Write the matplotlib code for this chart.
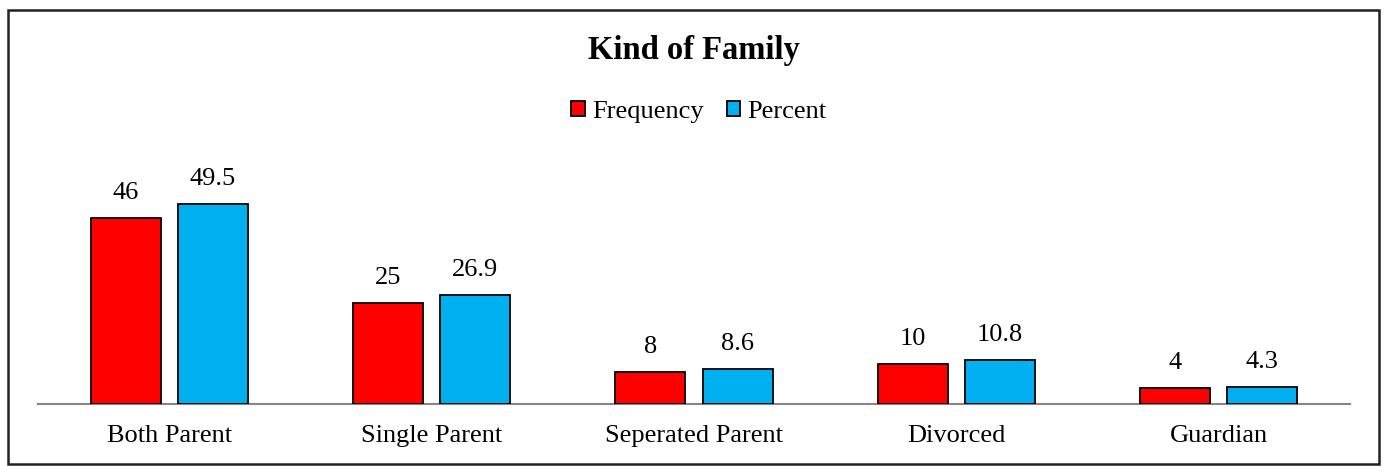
import matplotlib
matplotlib.use("Agg")
import matplotlib.pyplot as plt
from matplotlib.patches import Patch, Rectangle
import numpy as np

categories = ["Both Parent", "Single Parent", "Seperated Parent", "Divorced", "Guardian"]
frequency = [46, 25, 8, 10, 4]
percent = [49.5, 26.9, 8.6, 10.8, 4.3]
freq_labels = ["46", "25", "8", "10", "4"]
pct_labels = ["49.5", "26.9", "8.6", "10.8", "4.3"]
series_names = ["Frequency", "Percent"]

plt.rcParams['font.family'] = ['Liberation Serif', 'DejaVu Serif']

W, H = 1386, 466
fig = plt.figure(figsize=(W / 100, H / 100), dpi=100)

ax_left, ax_right = 38, 1350
ax_bottom = 404
ymax = 60
px_per_unit = 4.04
ax_h = ymax * px_per_unit
ax = fig.add_axes([ax_left / W, (H - ax_bottom) / H, (ax_right - ax_left) / W, ax_h / H])

x = np.arange(len(categories))
bw = 0.267
off = 0.166
red = "#FF0000"
blue = "#00B0F0"
b1 = ax.bar(x - off, frequency, bw, color=red, edgecolor="black", linewidth=1.3, zorder=3)
b2 = ax.bar(x + off, percent, bw, color=blue, edgecolor="black", linewidth=1.3, zorder=3)

fs = 19
for rect, lab in zip(b1, freq_labels):
    ax.annotate(lab, (rect.get_x() + rect.get_width() / 2, rect.get_height()),
                xytext=(0, 10), textcoords="offset points", ha="center", va="bottom",
                fontsize=fs, clip_on=False)
for rect, lab in zip(b2, pct_labels):
    ax.annotate(lab, (rect.get_x() + rect.get_width() / 2, rect.get_height()),
                xytext=(0, 10), textcoords="offset points", ha="center", va="bottom",
                fontsize=fs, clip_on=False)

ax.set_xlim(-0.5, len(categories) - 0.5)
ax.set_ylim(0, ymax)
ax.set_yticks([])
ax.set_xticks(x)
ax.set_xticklabels(categories, fontsize=fs)
ax.tick_params(axis="x", length=0, pad=15)
for s in ["top", "left", "right"]:
    ax.spines[s].set_visible(False)
ax.spines["bottom"].set_color("#868686")
ax.spines["bottom"].set_linewidth(1.5)
ax.patch.set_alpha(0)

fig.text(694 / W, 1 - 50 / H, "Kind of Family", ha="center", va="center",
         fontsize=23.5, fontweight="bold")

handles = [Patch(facecolor=red, edgecolor="black", linewidth=1.3),
           Patch(facecolor=blue, edgecolor="black", linewidth=1.3)]
fig.legend(handles, series_names, loc="center", bbox_to_anchor=(699 / W, 1 - 112 / H),
           ncol=2, frameon=False, fontsize=fs, handlelength=0.5, handleheight=0.5,
           handletextpad=0.27, columnspacing=0.9, borderpad=0)

frame = Rectangle((8 / W, 2 / H), (1379 - 8) / W, (456 - 2) / H, transform=fig.transFigure,
                  fill=False, edgecolor="#222222", linewidth=1.8)
fig.patches.append(frame)

fig.savefig("out.png", dpi=100)
